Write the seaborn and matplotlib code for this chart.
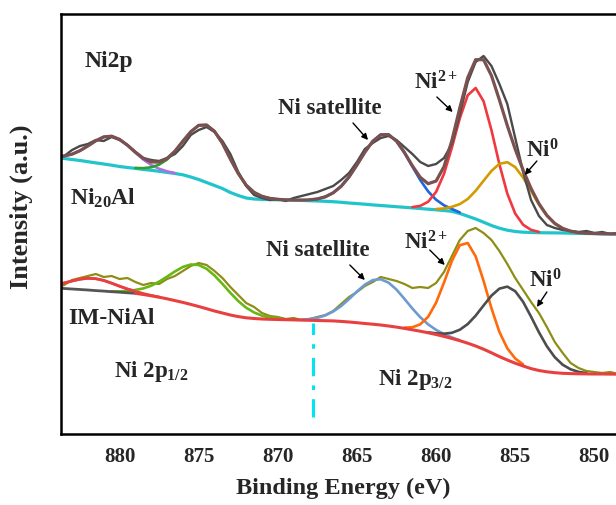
import numpy as np
import pandas as pd
import matplotlib
matplotlib.use("Agg")
import matplotlib.pyplot as plt
from matplotlib.ticker import AutoMinorLocator
import seaborn as sns

# ---------------- data ----------------
ENERGY = np.round(np.arange(884.0, 848.45, -0.5), 1)  # binding-energy grid, eV

# Ni20Al (upper spectrum)
TOP_RAW = [275, 278, 284, 288, 290, 294, 293, 297, 294, 289,
           282, 276, 274, 273, 276, 280, 288, 299, 304, 307,
           302, 293, 280, 262, 248, 239, 236, 234, 235, 233,
           236, 238, 240, 242, 245, 248, 254, 261, 272, 285,
           291, 296, 298, 294, 287, 280, 272, 268, 270, 276,
           290, 320, 352, 372, 378, 368, 350, 330, 296, 262,
           234, 218, 209, 206, 204, 203, 202, 203, 201, 202,
           200, 201]
TOP_BKG = [276, 275.5, 274.5, 273.5, 272.3, 271.1, 270, 268.8, 267.5, 266.5,
           265.6, 264.6, 263.7, 262.7, 261.6, 260.5, 259.2, 257, 254.5, 251.5,
           248.5, 245.5, 241.5, 238.5, 236, 235, 234.6, 234.4, 234.2, 234,
           233.8, 233.6, 233.3, 233, 232.7, 232.3, 231.7, 231, 230.4, 229.8,
           229.1, 228.5, 227.9, 227.3, 226.7, 226.1, 225.5, 224.8, 224.2, 223.5,
           222.6, 220.5, 217.8, 215, 211.8, 208.5, 205.8, 203.8, 202.5, 201.8,
           201.5, 201.3, 201.2, 201.1, 201, 200.8, 200.6, 200.5, 200.4, 200.2,
           200.1, 200]
TOP_NAMES = ["sat 2p1/2", "Ni 2p1/2", "satellite", "Ni2+", "Ni0"]
TOP_CENTERS = [880.5, 874.5, 863.2, 857.5, 855.5]
TOP_HEIGHTS = [29, 57.5, 72, 131, 68]
TOP_FWHM = [3.2, 3.4, 3.8, 2.95, 3.55]
TOP_COLORS = ["#B070E0", "#2EA02E", "#1F66D9", "#F0393E", "#D29C00"]

# IM-NiAl (lower spectrum)
BOT_RAW = [146, 149, 154, 156, 158, 160, 157, 158, 155, 156,
           152, 149, 151, 150, 155, 158, 163, 168, 171, 169,
           163, 156, 147, 139, 131, 127, 121, 118, 117, 115,
           116, 114, 115, 117, 119, 123, 130, 137, 142, 148,
           152, 157, 155, 153, 150, 146, 147, 146, 151, 162,
           178, 194, 203, 206, 201, 194, 183, 170, 156, 144,
           132, 121, 107, 92, 81, 71, 66, 63, 62, 61,
           62, 60]
BOT_BKG = [146, 145.5, 145, 144.5, 144, 143.4, 142.9, 142.3, 141.8, 141.2,
           140.7, 139.5, 138.2, 136.8, 135.2, 133.4, 131.6, 129.6, 127.5, 125.3,
           123, 121, 119, 117.4, 116.2, 115.5, 115, 114.7, 114.5, 114.3,
           114.1, 113.9, 113.7, 113.5, 113.3, 113.1, 112.6, 112, 111.3, 110.5,
           109.8, 109, 108, 106.9, 105.6, 104.2, 102.8, 101.2, 99.5, 97.6,
           95.5, 93.3, 90.8, 88, 84.8, 81.2, 77.4, 74, 70.8, 68,
           65.4, 63.5, 62.2, 61.3, 60.7, 60.4, 60.2, 60.1, 60, 60,
           59.9, 59.8]
BOT_NAMES = ["sat 2p1/2", "Ni 2p1/2", "satellite", "Ni2+", "Ni0"]
BOT_CENTERS = [881.7, 875.0, 863.55, 858.1, 855.35]
BOT_HEIGHTS = [12, 41.5, 45.8, 100.5, 73.7]
BOT_FWHM = [3.4, 4.2, 3.9, 2.95, 3.8]
BOT_COLORS = ["#EA3F3F", "#66B814", "#6B9BD2", "#FF6A0A", "#4D4D4D"]

X_TICKS = [880, 875, 870, 865, 860, 855, 850]
SPLIT_ENERGY = 867.8  # 2p1/2 | 2p3/2 divider

# ---------------- style ----------------
sns.set_style("white")
plt.rcParams["font.family"] = ["Liberation Serif", "DejaVu Serif"]
plt.rcParams["font.weight"] = "bold"
plt.rcParams["axes.labelweight"] = "bold"
plt.rcParams["mathtext.fontset"] = "custom"
plt.rcParams["mathtext.rm"] = "Liberation Serif:bold"
plt.rcParams["mathtext.it"] = "Liberation Serif:bold"
plt.rcParams["mathtext.bf"] = "Liberation Serif:bold"
plt.rcParams["mathtext.default"] = "rm"

fig = plt.figure(figsize=(6.16, 5.05), dpi=100)
ax = fig.add_axes([61 / 616, 71 / 505, 565 / 616, 420 / 505])

top_raw = np.array(TOP_RAW, float)
top_bkg = np.array(TOP_BKG, float)
bot_raw = np.array(BOT_RAW, float)
bot_bkg = np.array(BOT_BKG, float)
assert len(ENERGY) == len(top_raw) == len(top_bkg) == len(bot_raw) == len(bot_bkg)


def peak(c, h, fwhm):
    s = fwhm / 2.3548
    return h * np.exp(-0.5 * ((ENERGY - c) / s) ** 2)


def window(c, fwhm):
    s = fwhm / 2.3548
    return np.abs(ENERGY - c) <= 3.2 * s


def line(x, y, color, lw):
    df = pd.DataFrame({"BE": x, "I": y})
    sns.lineplot(data=df, x="BE", y="I", color=color, lw=lw, ax=ax,
                 sort=False, estimator=None, legend=False)


# ----- lower spectrum -----
line(ENERGY, bot_raw, "#8E8E16", 1.6)
for c, h, w, col in zip(BOT_CENTERS, BOT_HEIGHTS, BOT_FWHM, BOT_COLORS):
    m = window(c, w)
    line(ENERGY[m], (bot_bkg + peak(c, h, w))[m], col, 1.9)
left = ENERGY >= 879.0
line(ENERGY[left], bot_bkg[left], "#555555", 2.0)
right = ENERGY <= 879.0
line(ENERGY[right], bot_bkg[right], "#E8403F", 2.2)
m0 = window(BOT_CENTERS[0], BOT_FWHM[0]) & left
line(ENERGY[m0], (bot_bkg + peak(BOT_CENTERS[0], BOT_HEIGHTS[0], BOT_FWHM[0]))[m0], BOT_COLORS[0], 2.0)

# ----- upper spectrum -----
line(ENERGY, top_bkg, "#22C4CC", 2.3)
env = top_bkg.copy()
for c, h, w, col in zip(TOP_CENTERS, TOP_HEIGHTS, TOP_FWHM, TOP_COLORS):
    pk = peak(c, h, w)
    env = env + pk
    m = window(c, w)
    line(ENERGY[m], (top_bkg + pk)[m], col, 1.9)
line(ENERGY, top_raw, "#4A4A4A", 1.7)
line(ENERGY, env, "#7B5050", 2.3)

# divider
ax.plot([SPLIT_ENERGY, SPLIT_ENERGY], [17, 111], color="#00E6F0", lw=2.2,
        ls=(0, (6, 3, 1.5, 3)))

# ----- text -----
fs = 16.5
ax.text(882.2, 372, "Ni2p", fontsize=17, ha="left", va="center")
ax.text(883.1, 236, r"Ni$_{20}$Al", fontsize=17, ha="left", va="center")
ax.text(883.25, 116, "IM-NiAl", fontsize=17, ha="left", va="center")
ax.text(880.35, 62, r"Ni 2p$_{1/2}$", fontsize=fs, ha="left", va="center")
ax.text(863.65, 55, r"Ni 2p$_{3/2}$", fontsize=fs, ha="left", va="center")
ax.text(866.7, 326, "Ni satellite", fontsize=fs, ha="center", va="center")
ax.text(867.45, 183, "Ni satellite", fontsize=fs, ha="center", va="center")
ax.text(861.4, 344, r"Ni$^{2+}$", fontsize=fs, ha="left", va="baseline")
ax.text(854.3, 277, r"Ni$^{0}$", fontsize=fs, ha="left", va="baseline")
ax.text(862.0, 184, r"Ni$^{2+}$", fontsize=fs, ha="left", va="baseline")
ax.text(854.1, 146, r"Ni$^{0}$", fontsize=fs, ha="left", va="baseline")

ARROWS = [((865.25, 311), (864.3, 294)),
          ((859.95, 337), (858.95, 322)),
          ((853.63, 273), (854.4, 259)),
          ((865.45, 169), (864.5, 154)),
          ((860.4, 184), (859.45, 169)),
          ((853.0, 142), (853.63, 127))]
for (x0, y0), (x1, y1) in ARROWS:
    ax.annotate("", xy=(x1, y1), xytext=(x0, y0),
                arrowprops=dict(arrowstyle="-|>", color="black", lw=1.0,
                                mutation_scale=9, shrinkA=0, shrinkB=0))

# ----- axes -----
ax.set_xlim(883.7, 848.0)
ax.set_ylim(0, 420)
ax.set_xticks(X_TICKS)
ax.xaxis.set_minor_locator(AutoMinorLocator(2))
ax.set_yticks([])
ax.tick_params(axis="x", which="major", direction="in", length=6, width=1.5,
               labelsize=15, pad=9, color="black")
ax.tick_params(axis="x", which="minor", direction="in", length=3, width=1.5,
               color="black")
for lbl in ax.get_xticklabels():
    lbl.set_fontweight("bold")
for sp in ax.spines.values():
    sp.set_linewidth(1.8)
    sp.set_color("black")
ax.set_xlabel("Binding Energy (eV)", fontsize=17.5, fontweight="bold", labelpad=8)
ax.set_ylabel("Intensity (a.u.)", fontsize=19, fontweight="bold")
ax.yaxis.set_label_coords(-0.05, 0.54)

fig.savefig("out.png", dpi=100)
